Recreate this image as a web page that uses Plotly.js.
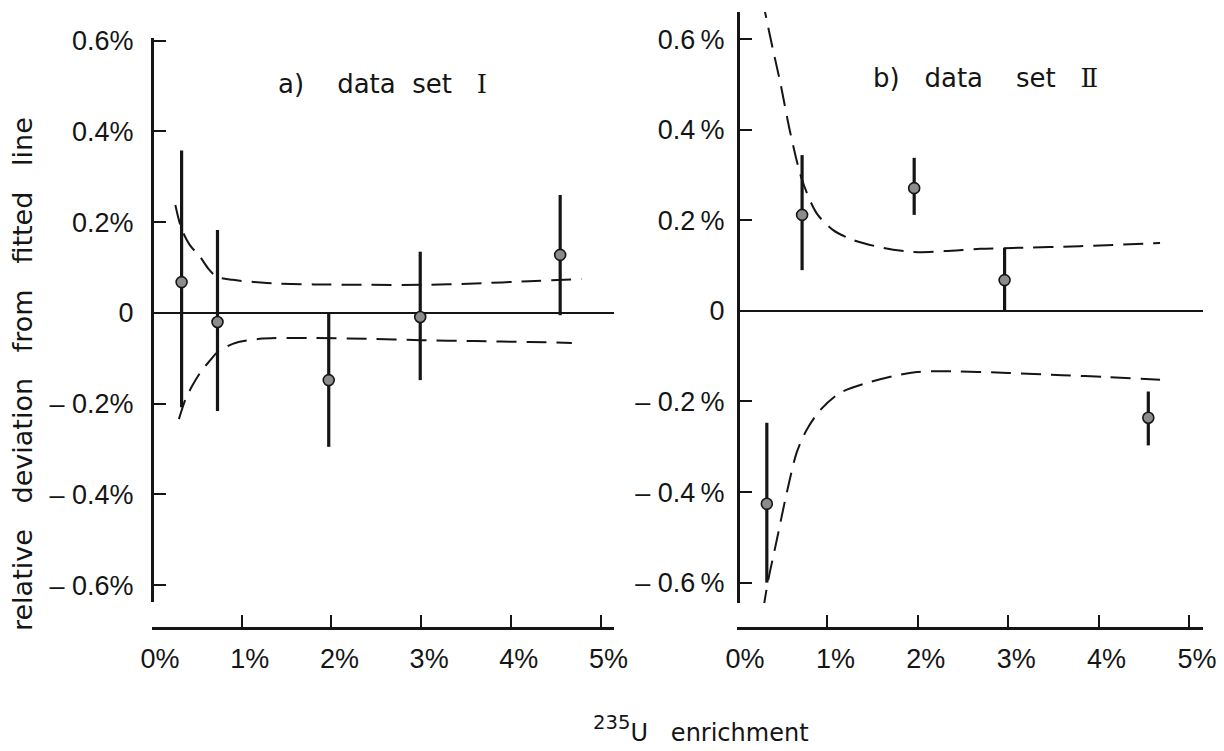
<!DOCTYPE html>
<html><head><meta charset="utf-8">
<script src="https://cdn.plot.ly/plotly-3.0.1.min.js"></script>
<style>html,body{margin:0;padding:0;background:#fff}</style>
</head><body><div id="chart" style="width:1224px;height:751px"></div>
<script>
// ---- data (values in %) ----
const xTickVals = [0, 1, 2, 3, 4, 5];
const xTickText = ['0%', '1%', '2%', '3%', '4%', '5%'];
const yTickVals = [0.6, 0.4, 0.2, 0, -0.2, -0.4, -0.6];
const yTickTextA = ['0.6%', '0.4%', '0.2%', '0', '\u2013 0.2%', '\u2013 0.4%', '\u2013 0.6%'];
const yTickTextB = ['0.6\u2009%', '0.4\u2009%', '0.2\u2009%', '0', '\u2013 0.2\u2009%', '\u2013 0.4\u2009%', '\u2013 0.6\u2009%'];

// a) data set I
const enrichA = [0.33, 0.73, 1.97, 2.99, 4.55];
const devA = [0.068, -0.020, -0.148, -0.009, 0.128];
const errPlusA = [0.290, 0.203, 0.148, 0.144, 0.132];
const errMinusA = [0.276, 0.196, 0.147, 0.139, 0.133];
const bandUpXA = [0.26, 0.33, 0.42, 0.535, 0.63, 0.72, 0.9, 1.28, 1.8, 2.4, 3.0, 3.6, 4.2, 4.79];
const bandUpYA = [0.238, 0.185, 0.150, 0.124, 0.097, 0.080, 0.073, 0.066, 0.063, 0.062, 0.062, 0.065, 0.070, 0.075];
const bandLoXA = [0.30, 0.37, 0.45, 0.55, 0.65, 0.72, 0.9, 1.2, 1.8, 2.4, 3.0, 3.6, 4.2, 4.68];
const bandLoYA = [-0.234, -0.192, -0.160, -0.128, -0.104, -0.088, -0.068, -0.057, -0.055, -0.057, -0.060, -0.062, -0.064, -0.066];

// b) data set II
const enrichB = [0.33, 0.72, 1.96, 2.96, 4.55];
const devB = [-0.426, 0.212, 0.271, 0.068, -0.236];
const errPlusB = [0.179, 0.132, 0.067, 0.071, 0.058];
const errMinusB = [0.174, 0.122, 0.059, 0.068, 0.061];
const bandUpXB = [0.28, 0.31, 0.40, 0.48, 0.59, 0.72, 0.88, 1.06, 1.28, 1.62, 1.95, 2.3, 2.69, 3.05, 3.79, 4.68];
const bandUpYB = [0.69, 0.66, 0.575, 0.503, 0.393, 0.289, 0.216, 0.179, 0.157, 0.139, 0.130, 0.132, 0.137, 0.139, 0.143, 0.150];
const bandLoXB = [0.29, 0.34, 0.44, 0.55, 0.66, 0.77, 0.92, 1.14, 1.44, 1.80, 1.99, 2.3, 3.0, 3.6, 4.1, 4.68];
const bandLoYB = [-0.66, -0.60, -0.506, -0.402, -0.313, -0.263, -0.219, -0.181, -0.159, -0.141, -0.135, -0.133, -0.137, -0.142, -0.146, -0.152];

// ---- styling ----
const INK = '#151515';
const W = 1224, H = 751;
const px = v => v / W;
const py = v => 1 - v / H;
const tickFont = {family: 'Liberation Sans, Arial, sans-serif', size: 27, color: INK};
const textFont = {family: 'DejaVu Sans, sans-serif', size: 26, color: INK};
const dash = '20px,10px';

function pointTrace(x, y, ep, em, xa, ya) {
  return {
    type: 'scatter', mode: 'markers', x: x, y: y, xaxis: xa, yaxis: ya,
    marker: {size: 11, color: '#8c8c8c', line: {color: INK, width: 1.6}},
    error_y: {type: 'data', symmetric: false, array: ep, arrayminus: em,
              thickness: 3.2, width: 0, color: INK},
    showlegend: false, hoverinfo: 'skip'
  };
}
function bandTrace(x, y, xa, ya) {
  return {
    type: 'scatter', mode: 'lines', x: x, y: y, xaxis: xa, yaxis: ya,
    line: {color: INK, width: 2, dash: dash, shape: 'spline', smoothing: 0.8},
    showlegend: false, hoverinfo: 'skip'
  };
}

const data = [
  bandTrace(bandUpXA, bandUpYA, 'x', 'y'),
  bandTrace(bandLoXA, bandLoYA, 'x', 'y'),
  pointTrace(enrichA, devA, errPlusA, errMinusA, 'x', 'y'),
  bandTrace(bandUpXB, bandUpYB, 'x2', 'y2'),
  bandTrace(bandLoXB, bandLoYB, 'x2', 'y2'),
  pointTrace(enrichB, devB, errPlusB, errMinusB, 'x2', 'y2')
];

function xAxis(dom, rng) {
  return {
    domain: dom, range: rng, anchor: 'free', position: py(628),
    showline: true, linewidth: 2.6, linecolor: INK,
    ticks: 'inside', ticklen: 12, tickwidth: 2, tickcolor: INK,
    tickvals: xTickVals, ticktext: xTickText, tickfont: tickFont,
    ticklabelshift: 8, ticklabelstandoff: 6,
    showgrid: false, zeroline: false, fixedrange: true
  };
}
function yAxis(dom, rng, pos, standoff, labels) {
  return {
    domain: dom, range: rng, anchor: 'free', position: pos,
    showline: true, linewidth: 2.6, linecolor: INK,
    ticks: 'inside', ticklen: 12, tickwidth: 2, tickcolor: INK,
    tickvals: yTickVals, ticktext: labels, tickfont: tickFont,
    ticklabelstandoff: standoff,
    showgrid: false, zeroline: true, zerolinecolor: INK, zerolinewidth: 1.8,
    fixedrange: true
  };
}

const nb = n => '\u00a0'.repeat(n);

const layout = {
  width: W, height: H,
  margin: {l: 0, r: 0, t: 0, b: 0},
  paper_bgcolor: '#ffffff', plot_bgcolor: 'rgba(0,0,0,0)',
  showlegend: false,
  xaxis: xAxis([px(152), px(614)], [0, 5.15]),
  yaxis: yAxis([py(602), py(38)], [-0.637, 0.606], px(152), 12, yTickTextA),
  xaxis2: xAxis([px(737), px(1203)], [0, 5.155]),
  yaxis2: yAxis([py(603), py(12)], [-0.645, 0.66], px(738), 7, yTickTextB),
  annotations: [
    {xref: 'paper', yref: 'paper', x: px(276), y: py(84), xanchor: 'left', yanchor: 'middle',
     showarrow: false, font: textFont,
     text: 'a)' + nb(4) + 'data' + nb(2) + 'set' + nb(3) + '<span style="font-family:\'DejaVu Serif\'">I</span>'},
    {xref: 'paper', yref: 'paper', x: px(871), y: py(78), xanchor: 'left', yanchor: 'middle',
     showarrow: false, font: textFont,
     text: 'b)' + nb(3) + 'data' + nb(4) + 'set' + nb(3) + '<span style="font-family:\'DejaVu Serif\'">\u2161</span>'},
    {xref: 'paper', yref: 'paper', x: px(22), y: py(374), xanchor: 'center', yanchor: 'middle',
     textangle: -90, showarrow: false, font: {family: 'DejaVu Sans, sans-serif', size: 27, color: INK},
     text: 'relative' + nb(3) + 'deviation' + nb(3) + 'from' + nb(3) + 'fitted' + nb(3) + 'line'},
    {xref: 'paper', yref: 'paper', x: px(701), y: py(729), xanchor: 'center', yanchor: 'middle',
     showarrow: false, font: {family: 'DejaVu Sans, sans-serif', size: 24, color: INK},
     text: '<span style="font-size:28px"><sup>235</sup></span>U' + nb(3) + 'enrichment'}
  ]
};

Plotly.newPlot('chart', data, layout, {displayModeBar: false, staticPlot: true});
</script>
</body></html>
